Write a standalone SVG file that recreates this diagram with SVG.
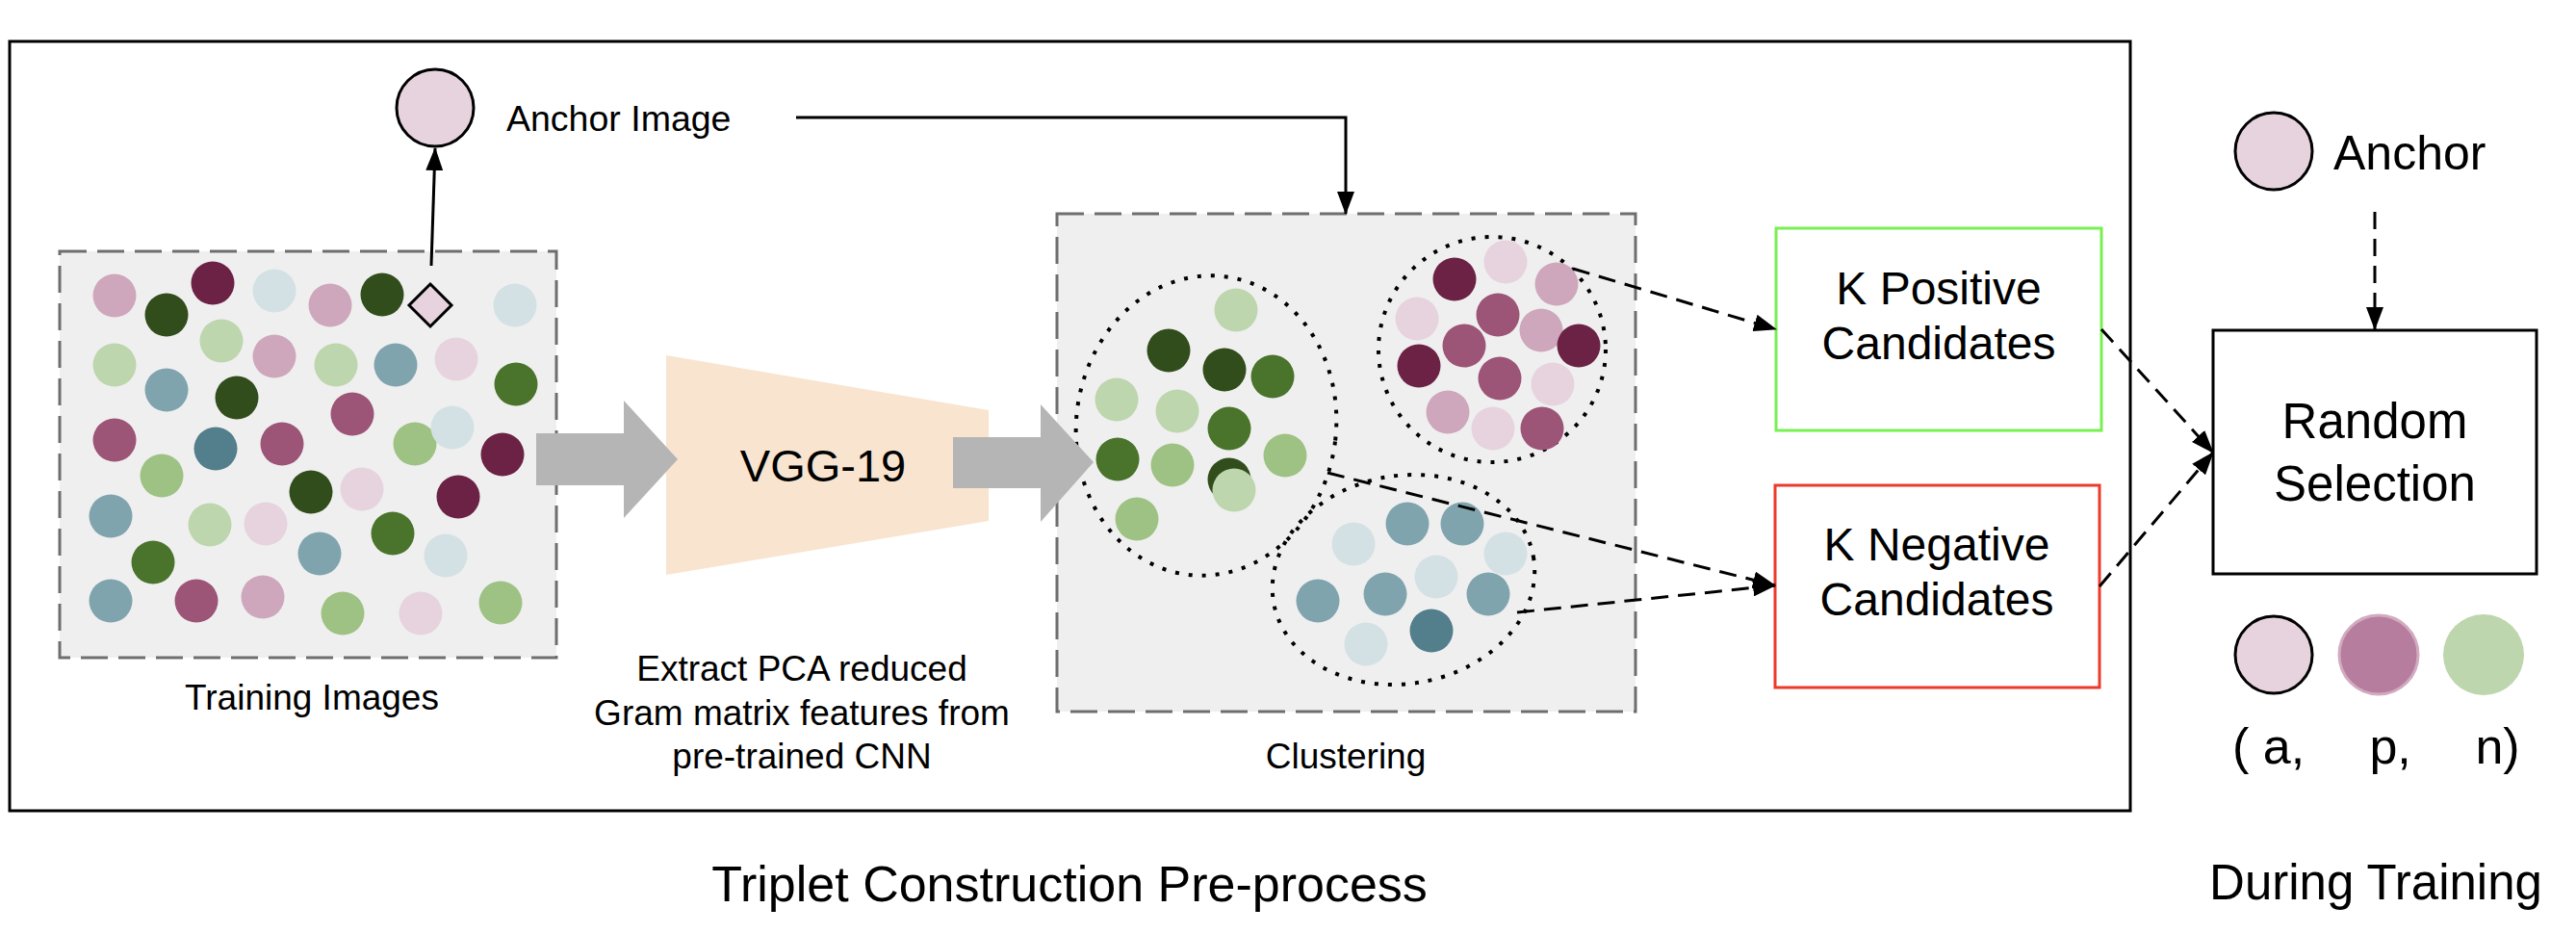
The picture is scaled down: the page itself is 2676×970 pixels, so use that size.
<svg xmlns="http://www.w3.org/2000/svg" width="2676" height="970" viewBox="0 0 2676 970">
<defs>
<style>
.t{font-family:"Liberation Sans",Arial,Helvetica,sans-serif;fill:#000}
.s37{font-size:37px}.s48{font-size:48px}.s51{font-size:51px}.s52{font-size:52px}
.mid{text-anchor:middle}
.dbox{fill:#efefef;stroke:#6e6e6e;stroke-width:3;stroke-dasharray:28 11}
.dot{stroke:#000;stroke-width:4;stroke-dasharray:4 10;fill:none}
.conn{fill:none;stroke:#000;stroke-width:3}
.dash{stroke-dasharray:18 10}
.garrow{fill:#b5b5b5}
.lp{fill:#e6d3de}.pk{fill:#cfa7bd}.mv{fill:#9c5477}.mr{fill:#6b2244}
.lb{fill:#d3e1e5}.bg{fill:#80a4ae}.dt{fill:#537e8b}
.lg{fill:#bdd6ad}.gr{fill:#9ec283}.mg{fill:#4a742c}.dg{fill:#324d1c}
</style>
<marker id="ah" viewBox="0 0 24 18" refX="23" refY="9" markerWidth="24" markerHeight="18" markerUnits="userSpaceOnUse" orient="auto">
<path d="M0,0 L24,9 L0,18 Z" fill="#000"/>
</marker>
</defs>
<rect width="2676" height="970" fill="#fff"/>

<g id="outer-frame">
<rect x="10" y="43" width="2203" height="799" fill="none" stroke="#000" stroke-width="3"/>
</g>

<g id="training-images">
<rect class="dbox" x="62" y="261" width="516" height="422"/>
<g r="22.5">
<circle class="pk" cx="119" cy="307" r="22.5"/>
<circle class="dg" cx="173" cy="327" r="22.5"/>
<circle class="mr" cx="221" cy="294" r="22.5"/>
<circle class="lb" cx="285" cy="302" r="22.5"/>
<circle class="pk" cx="343" cy="317" r="22.5"/>
<circle class="dg" cx="397" cy="306" r="22.5"/>
<circle class="lb" cx="535" cy="317" r="22.5"/>
<circle class="lg" cx="119" cy="379" r="22.5"/>
<circle class="lg" cx="230" cy="354" r="22.5"/>
<circle class="pk" cx="285" cy="370" r="22.5"/>
<circle class="lg" cx="349" cy="379" r="22.5"/>
<circle class="bg" cx="411" cy="379" r="22.5"/>
<circle class="lp" cx="474" cy="373" r="22.5"/>
<circle class="mg" cx="536" cy="399" r="22.5"/>
<circle class="bg" cx="173" cy="405" r="22.5"/>
<circle class="dg" cx="246" cy="413" r="22.5"/>
<circle class="mv" cx="366" cy="430" r="22.5"/>
<circle class="mv" cx="119" cy="457" r="22.5"/>
<circle class="dt" cx="224" cy="466" r="22.5"/>
<circle class="mv" cx="293" cy="461" r="22.5"/>
<circle class="gr" cx="431" cy="461" r="22.5"/>
<circle class="lb" cx="470" cy="444" r="22.5"/>
<circle class="mr" cx="522" cy="472" r="22.5"/>
<circle class="gr" cx="168" cy="494" r="22.5"/>
<circle class="dg" cx="323" cy="511" r="22.5"/>
<circle class="lp" cx="376" cy="508" r="22.5"/>
<circle class="mr" cx="476" cy="516" r="22.5"/>
<circle class="bg" cx="115" cy="536" r="22.5"/>
<circle class="lg" cx="218" cy="545" r="22.5"/>
<circle class="lp" cx="276" cy="544" r="22.5"/>
<circle class="bg" cx="332" cy="575" r="22.5"/>
<circle class="mg" cx="408" cy="554" r="22.5"/>
<circle class="lb" cx="463" cy="577" r="22.5"/>
<circle class="mg" cx="159" cy="584" r="22.5"/>
<circle class="bg" cx="115" cy="624" r="22.5"/>
<circle class="mv" cx="204" cy="624" r="22.5"/>
<circle class="pk" cx="273" cy="620" r="22.5"/>
<circle class="gr" cx="356" cy="637" r="22.5"/>
<circle class="lp" cx="437" cy="637" r="22.5"/>
<circle class="gr" cx="520" cy="626" r="22.5"/>
</g>
<polygon points="447,295 469,317 447,339 425,317" class="lp" stroke="#000" stroke-width="3"/>
<text class="t s37 mid" x="324" y="737">Training Images</text>
</g>

<g id="anchor-image">
<circle cx="452" cy="112" r="40" class="lp" stroke="#000" stroke-width="3"/>
<text class="t s37" x="526" y="136" style="font-size:37.5px">Anchor Image</text>
</g>

<g id="vgg19">
<polygon points="692,369 1027,426 1027,541 692,597" fill="#f8e4cf"/>
<text class="t mid" x="855" y="500" style="font-size:47px">VGG-19</text>
<text class="t s37 mid" x="833" y="707">Extract PCA reduced</text>
<text class="t s37 mid" x="833" y="753">Gram matrix features from</text>
<text class="t s37 mid" x="833" y="798">pre-trained CNN</text>
</g>

<g id="clustering">
<rect class="dbox" x="1098" y="222" width="601" height="517"/>
<ellipse class="dot" cx="1253" cy="442" rx="135" ry="156" transform="rotate(7 1253 442)"/>
<ellipse class="dot" cx="1550" cy="363" rx="118" ry="117"/>
<ellipse class="dot" cx="1458" cy="602" rx="137" ry="108" transform="rotate(-10 1458 602)"/>
<circle class="lg" cx="1284" cy="322" r="22.5"/>
<circle class="dg" cx="1214" cy="364" r="22.5"/>
<circle class="dg" cx="1272" cy="384" r="22.5"/>
<circle class="mg" cx="1322" cy="391" r="22.5"/>
<circle class="lg" cx="1160" cy="415" r="22.5"/>
<circle class="lg" cx="1223" cy="427" r="22.5"/>
<circle class="mg" cx="1277" cy="445" r="22.5"/>
<circle class="mg" cx="1161" cy="477" r="22.5"/>
<circle class="gr" cx="1218" cy="483" r="22.5"/>
<circle class="gr" cx="1335" cy="473" r="22.5"/>
<circle class="dg" cx="1277" cy="498" r="22.5"/>
<circle class="lg" cx="1282" cy="509" r="22.5"/>
<circle class="gr" cx="1181" cy="539" r="22.5"/>
<circle class="mr" cx="1511" cy="290" r="22.5"/>
<circle class="lp" cx="1564" cy="272" r="22.5"/>
<circle class="pk" cx="1617" cy="295" r="22.5"/>
<circle class="lp" cx="1472" cy="331" r="22.5"/>
<circle class="mv" cx="1556" cy="327" r="22.5"/>
<circle class="pk" cx="1601" cy="343" r="22.5"/>
<circle class="mr" cx="1640" cy="359" r="22.5"/>
<circle class="mv" cx="1521" cy="359" r="22.5"/>
<circle class="mr" cx="1474" cy="380" r="22.5"/>
<circle class="mv" cx="1558" cy="393" r="22.5"/>
<circle class="lp" cx="1613" cy="399" r="22.5"/>
<circle class="pk" cx="1504" cy="428" r="22.5"/>
<circle class="lp" cx="1551" cy="445" r="22.5"/>
<circle class="mv" cx="1602" cy="445" r="22.5"/>
<circle class="lb" cx="1406" cy="565" r="22.5"/>
<circle class="bg" cx="1462" cy="544" r="22.5"/>
<circle class="bg" cx="1519" cy="544" r="22.5"/>
<circle class="lb" cx="1564" cy="575" r="22.5"/>
<circle class="lb" cx="1492" cy="599" r="22.5"/>
<circle class="bg" cx="1369" cy="624" r="22.5"/>
<circle class="bg" cx="1439" cy="617" r="22.5"/>
<circle class="bg" cx="1546" cy="617" r="22.5"/>
<circle class="lb" cx="1419" cy="669" r="22.5"/>
<circle class="dt" cx="1487" cy="655" r="22.5"/>
<text class="t s37 mid" x="1398" y="798">Clustering</text>
</g>

<g id="flow-arrows">
<polygon class="garrow" points="557,450 648,450 648,416 704,477 648,538 648,504 557,504"/>
<polygon class="garrow" points="990,454 1081,454 1081,420 1136,480 1081,542 1081,507 990,507"/>
</g>

<g id="k-positive">
<rect x="1845" y="237" width="338" height="210" fill="#fff" stroke="#78f052" stroke-width="3"/>
<text class="t s48 mid" x="2014" y="316">K Positive</text>
<text class="t s48 mid" x="2014" y="373">Candidates</text>
</g>

<g id="k-negative">
<rect x="1844" y="504" width="337" height="210" fill="#fff" stroke="#ee3a2a" stroke-width="3"/>
<text class="t s48 mid" x="2012" y="582">K Negative</text>
<text class="t s48 mid" x="2012" y="639">Candidates</text>
</g>

<g id="anchor">
<circle cx="2362" cy="157" r="40" class="lp" stroke="#000" stroke-width="3"/>
<text class="t" x="2424" y="176" style="font-size:50px">Anchor</text>
</g>

<g id="random-selection">
<rect x="2299" y="343" width="336" height="253" fill="#fff" stroke="#000" stroke-width="3"/>
<text class="t s51 mid" x="2467" y="455">Random</text>
<text class="t s51 mid" x="2467" y="520">Selection</text>
</g>

<g id="triplet">
<circle cx="2362" cy="680" r="40" class="lp" stroke="#000" stroke-width="3"/>
<circle cx="2471" cy="680" r="41" fill="#b77d9e" stroke="#d2abc0" stroke-width="3"/>
<circle cx="2580" cy="680" r="42" class="lg"/>
<text class="t s52" y="793"><tspan x="2319">( a,</tspan><tspan x="2447"> p,</tspan><tspan x="2557"> n)</tspan></text>
</g>

<g id="connectors">
<path class="conn" d="M448,276 L452,154" marker-end="url(#ah)"/>
<path class="conn" d="M827,122 L1398,122 L1398,222" marker-end="url(#ah)"/>
<path class="conn dash" d="M1634,279 L1845,342" marker-end="url(#ah)"/>
<path class="conn dash" d="M1379,491 L1844,608" marker-end="url(#ah)"/>
<path class="conn dash" d="M1576,636 L1844,608" marker-end="url(#ah)"/>
<path class="conn dash" d="M2183,342 L2299,470" marker-end="url(#ah)"/>
<path class="conn dash" d="M2181,609 L2299,470" marker-end="url(#ah)"/>
<path class="conn dash" d="M2467,220 L2467,342" marker-end="url(#ah)"/>
</g>

<g id="section-labels">
<text class="t s52 mid" x="1111" y="936">Triplet Construction Pre-process</text>
<text class="t s51 mid" x="2468" y="934">During Training</text>
</g>
</svg>
